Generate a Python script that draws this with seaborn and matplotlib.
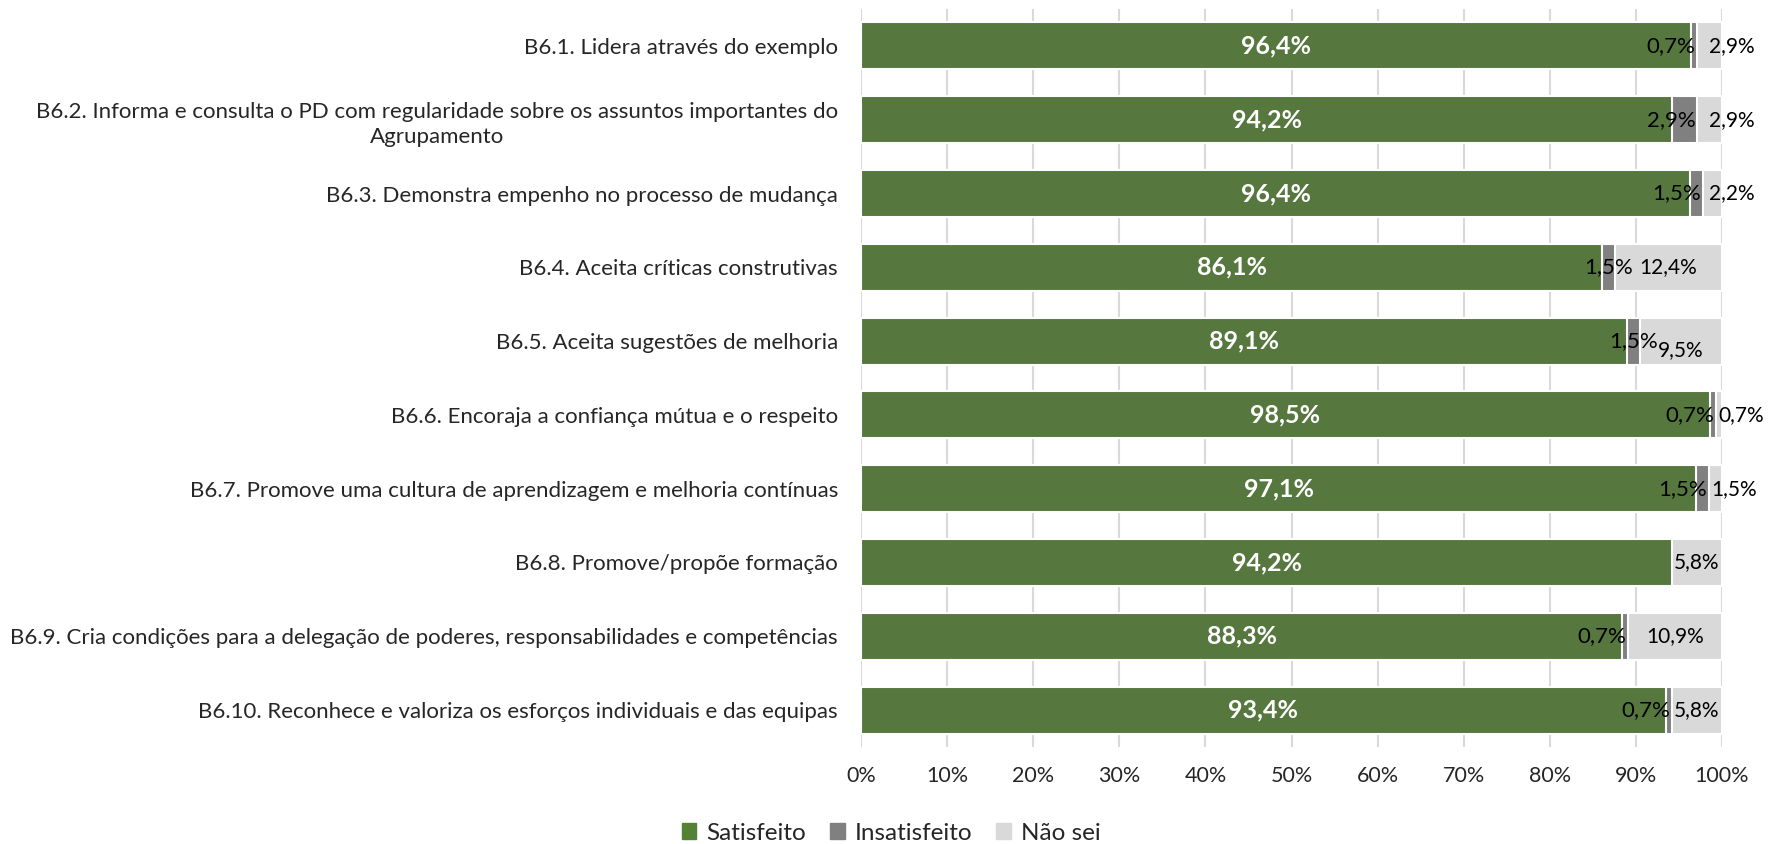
import numpy as np
import pandas as pd
import matplotlib.pyplot as plt
import seaborn as sns

items = [
    "B6.1. Lidera através do exemplo",
    "B6.2. Informa e consulta o PD com regularidade sobre os assuntos importantes do\nAgrupamento",
    "B6.3. Demonstra empenho no processo de mudança",
    "B6.4. Aceita críticas construtivas",
    "B6.5. Aceita sugestões de melhoria",
    "B6.6. Encoraja a confiança mútua e o respeito",
    "B6.7. Promove uma cultura de aprendizagem e melhoria contínuas",
    "B6.8. Promove/propõe formação",
    "B6.9. Cria condições para a delegação de poderes, responsabilidades e competências",
    "B6.10. Reconhece e valoriza os esforços individuais e das equipas",
]
satisfeito = [96.4, 94.2, 96.4, 86.1, 89.1, 98.5, 97.1, 94.2, 88.3, 93.4]
insatisfeito = [0.7, 2.9, 1.5, 1.5, 1.5, 0.7, 1.5, 0.0, 0.7, 0.7]
nao_sei = [2.9, 2.9, 2.2, 12.4, 9.5, 0.7, 1.5, 5.8, 10.9, 5.8]
series = ["Satisfeito", "Insatisfeito", "Não sei"]
colors = ["#548235", "#808080", "#d9d9d9"]

sns.set_style("white")
plt.rcParams['font.family'] = ['Lato', 'DejaVu Sans']

df = pd.DataFrame({"item": items, "sat": satisfeito, "ins": insatisfeito, "nao": nao_sei})
tot = df[["sat", "ins", "nao"]].sum(axis=1)
# 100% stacked: normalise each row
df["c1"] = df["sat"] / tot * 100
df["c2"] = (df["sat"] + df["ins"]) / tot * 100
df["c3"] = 100.0

fig = plt.figure(figsize=(17.69, 8.44), dpi=100)
ax = fig.add_axes([861 / 1769, 1 - 747 / 844, (1722 - 861) / 1769, (747 - 9) / 844])

bw = 0.635
for col, c in zip(["c3", "c2", "c1"], colors[::-1]):
    sns.barplot(data=df, x=col, y="item", orient="h", color=c, width=bw,
                edgecolor="white", linewidth=1.5, ax=ax, zorder=3)

ax.set_xlim(0, 100)
ax.set_ylim(len(items) - 0.5, -0.5)
ax.set_xticks(np.arange(0, 101, 10))
ax.set_xticklabels([f"{v}%" for v in range(0, 101, 10)], fontsize=15.5)
ax.tick_params(axis="y", labelsize=16, pad=16.5, length=0)
ax.tick_params(axis="x", pad=14, length=0)
for lab in ax.get_yticklabels():
    lab.set_multialignment("center")
    lab.set_linespacing(1.35)
ax.set_xlabel("")
ax.set_ylabel("")
ax.grid(axis="x", color="#d9d9d9", linewidth=1.5, zorder=0)
ax.grid(axis="y", visible=False)
for s in ax.spines.values():
    s.set_visible(False)

fig.canvas.draw()
rend = fig.canvas.get_renderer()

fmt = lambda v: f"{v:.1f}%".replace(".", ",")
for i, r in df.iterrows():
    ax.text(r["c1"] / 2, i, fmt(r["sat"]), ha="center", va="center",
            color="white", fontsize=18, fontweight="bold", zorder=5)
    t_ins = None
    if r["ins"] > 0:
        if r["ins"] < 1 or r["nao"] < 5:
            t_ins = ax.text(r["c2"] - 0.2, i, fmt(r["ins"]), ha="right", va="center",
                            color="black", fontsize=16, zorder=5)
        else:
            t_ins = ax.text((r["c1"] + r["c2"]) / 2, i, fmt(r["ins"]), ha="center", va="center",
                            color="black", fontsize=16, zorder=5)
    if r["nao"] >= 5:
        t_nao = ax.text((r["c2"] + 100) / 2, i, fmt(r["nao"]), ha="center", va="center",
                        color="black", fontsize=15, zorder=5)
    else:
        t_nao = ax.text(max(r["c2"] + 0.3, 98.5), i, fmt(r["nao"]), ha="left", va="center",
                        color="black", fontsize=15, zorder=5, clip_on=False)
    # nudge the "Não sei" label down when it crowds the "Insatisfeito" label
    if t_ins is not None:
        b1 = t_ins.get_window_extent(rend)
        b2 = t_nao.get_window_extent(rend)
        if b2.x0 - b1.x1 < 3:
            t_nao.set_y(i + 0.12)

handles = [plt.Rectangle((0, 0), 1, 1, color=c) for c in colors]
fig.legend(handles, series, loc="center", bbox_to_anchor=(891 / 1769, 11 / 844), ncol=3,
           frameon=False, fontsize=17.5, handlelength=0.6, handleheight=0.6,
           handletextpad=0.4, columnspacing=1.0)

fig.savefig("out.png", dpi=100)
